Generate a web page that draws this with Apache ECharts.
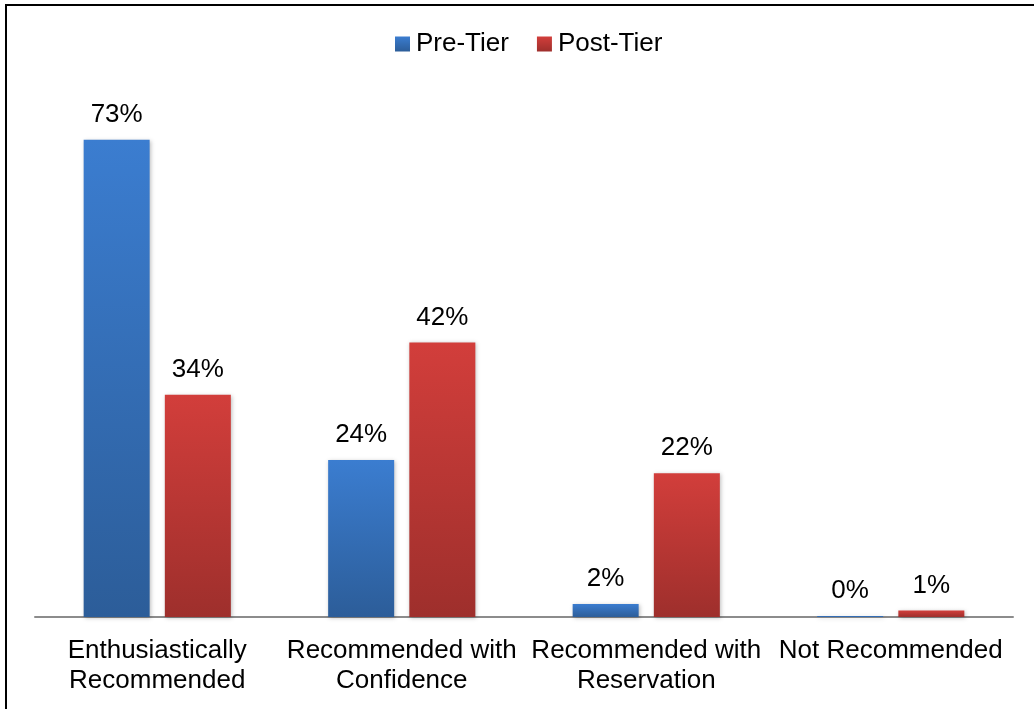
<!DOCTYPE html>
<html>
<head>
<meta charset="utf-8">
<title>Recommendation Ratings: Pre-Tier vs Post-Tier</title>
<script src="https://cdn.jsdelivr.net/npm/echarts@6/dist/echarts.min.js"></script>
<style>
  html, body { margin: 0; padding: 0; background: #fff; }
  #chart { width: 1034px; height: 709px; }
</style>
</head>
<body>
<div id="chart"></div>
<script>
// Recommendation categories and the share of responses in each (percent)
const categories = [
  'Enthusiastically\nRecommended',
  'Recommended with\nConfidence',
  'Recommended with\nReservation',
  'Not Recommended'
];
const preTier = [73, 24, 2, 0];
const postTier = [34, 42, 22, 1];
const seriesNames = ['Pre-Tier', 'Post-Tier'];

const FONT = '"Liberation Sans", Arial, sans-serif';

function vGrad(top, bottom) {
  return new echarts.graphic.LinearGradient(0, 0, 0, 1, [
    { offset: 0, color: top },
    { offset: 1, color: bottom }
  ]);
}

const chart = echarts.init(document.getElementById('chart'), null, { renderer: 'canvas' });

const barLabel = {
  show: true,
  position: 'top',
  distance: 12,
  formatter: '{c}%',
  color: '#000',
  fontFamily: FONT,
  fontSize: 26
};

chart.setOption({
  animation: false,
  backgroundColor: '#fff',
  graphic: [{
    type: 'rect',
    shape: { x: 6, y: 5, width: 1200, height: 900 },
    style: { fill: 'none', stroke: '#000', lineWidth: 2 },
    silent: true,
    z: 100
  }],
  legend: {
    data: seriesNames,
    top: 31,
    left: 395,
    padding: 0,
    itemWidth: 15,
    itemHeight: 15,
    itemGap: 28,
    icon: 'rect',
    textStyle: { fontFamily: FONT, fontSize: 26, color: '#000', padding: [0, 0, 0, 1] }
  },
  grid: { left: 35, right: 21, top: 94, bottom: 92, containLabel: false },
  xAxis: {
    type: 'category',
    data: categories,
    axisLine: { show: true, lineStyle: { color: '#8c8c8c', width: 2 } },
    axisTick: { show: false },
    axisLabel: {
      margin: 19,
      interval: 0,
      color: '#000',
      fontFamily: FONT,
      fontSize: 26,
      lineHeight: 30
    }
  },
  yAxis: {
    type: 'value',
    min: 0,
    max: 80,
    show: false,
    splitLine: { show: false }
  },
  series: [
    {
      name: seriesNames[0],
      type: 'bar',
      data: preTier,
      barWidth: 66,
      barGap: '23%',
      barMinHeight: 1,
      itemStyle: {
        color: vGrad('#3b7dd0', '#2c5d99'),
        shadowColor: 'rgba(0,0,0,0.25)',
        shadowBlur: 4,
        shadowOffsetX: 1,
        shadowOffsetY: 1
      },
      label: barLabel
    },
    {
      name: seriesNames[1],
      type: 'bar',
      data: postTier,
      barWidth: 66,
      barMinHeight: 1,
      itemStyle: {
        color: vGrad('#d23e3b', '#9e2f2c'),
        shadowColor: 'rgba(0,0,0,0.25)',
        shadowBlur: 4,
        shadowOffsetX: 1,
        shadowOffsetY: 1
      },
      label: barLabel
    }
  ]
});
</script>
</body>
</html>
